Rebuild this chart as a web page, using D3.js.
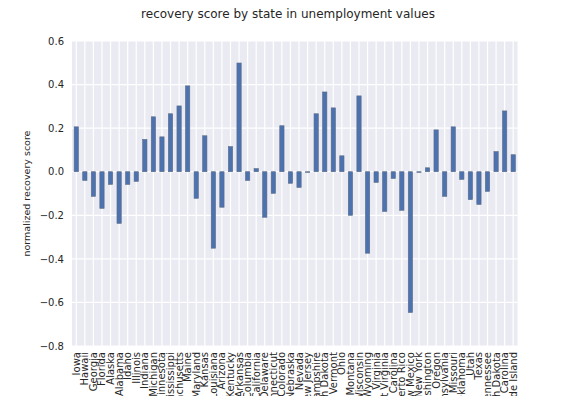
<!DOCTYPE html>
<html>
<head>
<meta charset="utf-8">
<script src="https://cdn.jsdelivr.net/npm/d3@7"></script>
<style>
    body { margin: 0; background: white; }
    svg { display: block; font-family: "DejaVu Sans", sans-serif; }
</style>
</head>
<body>
<div id="chart"></div>
<script>
const states = ["Iowa", "Hawaii", "Georgia", "Florida", "Alaska", "Alabama", "Idaho", "Illinois",
    "Indiana", "Michigan", "Minnesota", "Mississippi", "Massachusetts", "Maine", "Maryland", "Kansas",
    "Louisiana", "Arizona", "Kentucky", "Arkansas", "District of Columbia", "California", "Delaware",
    "Connecticut", "Colorado", "Nebraska", "Nevada", "New Jersey", "New Hampshire", "North Dakota",
    "Vermont", "Ohio", "Montana", "Wisconsin", "Wyoming", "Virginia", "West Virginia", "North Carolina",
    "Puerto Rico", "New Mexico", "New York", "Washington", "Oregon", "Pennsylvania", "Missouri",
    "Oklahoma", "Utah", "Texas", "Tennessee", "South Dakota", "South Carolina", "Rhode Island"];

const scores = [0.206, -0.040, -0.113, -0.168, -0.058, -0.237, -0.058, -0.044,
    0.148, 0.252, 0.160, 0.266, 0.302, 0.394, -0.122, 0.165,
    -0.351, -0.163, 0.115, 0.499, -0.040, 0.014, -0.209,
    -0.099, 0.211, -0.053, -0.072, -0.003, 0.266, 0.366,
    0.293, 0.073, -0.200, 0.348, -0.374, -0.049, -0.182, -0.031,
    -0.177, -0.646, -0.003, 0.018, 0.192, -0.113, 0.206,
    -0.035, -0.128, -0.150, -0.090, 0.092, 0.279, 0.078];

const yTicks = [-0.8, -0.6, -0.4, -0.2, 0.0, 0.2, 0.4, 0.6];

const title = "recovery score by state in unemployment values";
const ylabel = "normalized recovery score";

let width = 576, height = 396;
let ml = 72, mr = 58.5, mt = 41, mb = 50;
let textColor = '#262626';

let $ = d3.select('#chart').append('svg')
    .attr('width', width)
    .attr('height', height);

let X = d3.scaleBand()
    .domain(states)
    .range([ml, width - mr])
    .padding(0);
let Y = d3.scaleLinear()
    .domain([-0.8, 0.6])
    .range([height - mb, mt]);

// background
$.append('rect')
    .attr('x', ml)
    .attr('y', mt)
    .attr('width', width - ml - mr)
    .attr('height', height - mt - mb)
    .attr('fill', '#EAEAF2');

// grids
$.append('g').attr('class', 'x-grid')
    .selectAll('line').data(states).join('line')
    .attr('x1', d => X(d) + X.bandwidth()/2)
    .attr('x2', d => X(d) + X.bandwidth()/2)
    .attr('y1', mt)
    .attr('y2', height - mb)
    .attr('stroke', 'white')
    .attr('stroke-width', 1.2);
$.append('g').attr('class', 'y-grid')
    .selectAll('line').data(yTicks).join('line')
    .attr('x1', ml)
    .attr('x2', width - mr)
    .attr('y1', d => Y(d))
    .attr('y2', d => Y(d))
    .attr('stroke', 'white')
    .attr('stroke-width', 1.2);

// bars (pandas default width 0.5)
let bw = X.bandwidth()*0.5;
$.append('g').attr('class', 'elements')
    .selectAll('rect').data(states).join('rect')
    .attr('x', d => X(d) + (X.bandwidth() - bw)/2)
    .attr('width', bw)
    .attr('y', (d, i) => Y(Math.max(0, scores[i])))
    .attr('height', (d, i) => Math.abs(Y(scores[i]) - Y(0)))
    .attr('fill', '#4C72B0')
    .attr('stroke', '#5a6a84')
    .attr('stroke-width', 0.6);

// axes
let fmt = d3.format('.1f');
let yAxis = d3.axisLeft(Y).tickValues(yTicks).tickFormat(fmt).tickSize(0).tickPadding(8);
$.append('g').attr('class', 'y-axis')
    .attr('transform', `translate(${ml},0)`)
    .call(yAxis)
    .call(g => g.select('.domain').remove())
    .call(g => g.selectAll('text')
        .attr('fill', textColor)
        .style('font-size', '10px')
        .style('font-family', '"DejaVu Sans", sans-serif'));

// x labels are rotated and run off the bottom, like the original
let xAxis = d3.axisBottom(X).tickSize(0).tickPadding(0);
$.append('g').attr('class', 'x-axis')
    .attr('transform', `translate(0,${height - mb})`)
    .call(xAxis)
    .call(g => g.select('.domain').remove())
    .call(g => g.selectAll('text')
        .attr('fill', textColor)
        .attr('transform', 'rotate(-90)')
        .attr('x', -6)
        .attr('y', 0)
        .attr('dy', '0.35em')
        .attr('text-anchor', 'end')
        .style('font-size', '10px')
        .style('font-family', '"DejaVu Sans", sans-serif'));

// title and labels
$.append('text')
    .attr('class', 'title')
    .attr('x', width/2)
    .attr('y', 18)
    .attr('text-anchor', 'middle')
    .attr('fill', textColor)
    .style('font-size', '12px')
    .text(title);
$.append('text')
    .attr('class', 'y-label')
    .attr('transform', `translate(30,${(mt + height - mb)/2}) rotate(-90)`)
    .attr('text-anchor', 'middle')
    .attr('fill', textColor)
    .style('font-size', '9.5px')
    .text(ylabel);
</script>
</body>
</html>
